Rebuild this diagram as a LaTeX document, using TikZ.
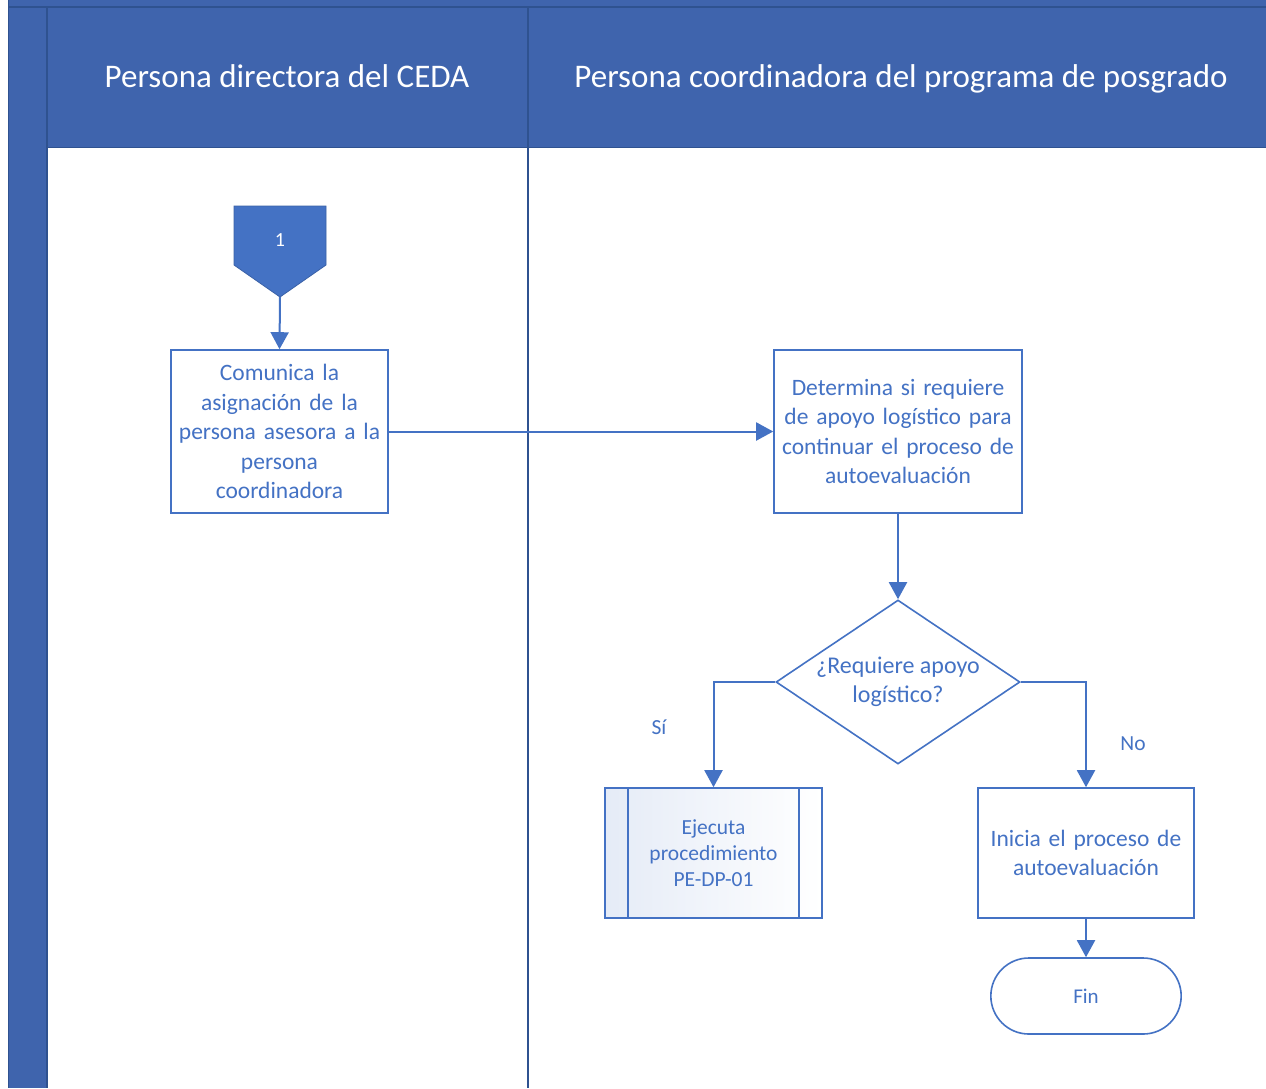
\documentclass[tikz,border=0pt]{standalone}
\usepackage{fontspec}
\setmainfont{Carlito}
\usetikzlibrary{shapes.geometric,shapes.misc,arrows.meta,calc}
\definecolor{hdr}{HTML}{3F64AD}
\definecolor{hdrline}{HTML}{2F5290}
\definecolor{shp}{HTML}{4472C4}
\tikzset{
  box/.style={draw=shp, line width=1.6pt, fill=white, text=shp, align=center, inner sep=2pt,
    font=\fontsize{23.5}{29.5}\selectfont},
  arr/.style={draw=shp, line width=2pt, -{Triangle[width=18pt,length=17pt]}},
  lanehead/.style={text=white, anchor=base, font=\fontsize{33}{38}\selectfont},
  lbl/.style={text=shp, font=\fontsize{21.5}{24}\selectfont},
}
\begin{document}
\begin{tikzpicture}[x=1pt,y=-1pt]
\useasboundingbox (0,0) rectangle (1266,1088);
\fill[white] (0,0) rectangle (1266,1088);
% pool
\fill[hdr] (8,0) rectangle (1266,1088);
\fill[white] (48,148) rectangle (1266,1088);
\draw[hdrline, line width=1.5pt] (8,7) -- (1266,7);
\draw[hdrline, line width=1.5pt] (47,7) -- (47,1088);
\draw[hdrline, line width=1.5pt] (47,147.5) -- (1266,147.5);
\draw[hdrline, line width=1.5pt] (528,7) -- (528,1088);
\draw[hdrline, line width=1pt] (8.5,0) -- (8.5,1088);
% lane headers
\node[lanehead] (h1) at (287,87) {Persona directora del CEDA};
\node[lanehead] (h2) at (901,87) {Persona coordinadora del programa de posgrado};
% off-page connector
\fill[shp] (234,206) -- (326,206) -- (326,265) -- (280,297) -- (234,265) -- cycle;
\draw[shp!85!black, line width=0.8pt] (234,206) -- (326,206) -- (326,265) -- (280,297) -- (234,265) -- cycle;
\node[text=white, font=\fontsize{20}{22}\selectfont] (oc) at (280,240) {1};
\coordinate (octip) at (280,297);
% boxes
\node[box, minimum width=217pt, minimum height=163pt, text width=212pt] (b1) at (279.5,431.5)
  {Comunica la\\asignación de la\\persona asesora a la\\persona\\coordinadora};
\node[box, minimum width=248pt, minimum height=163pt, text width=244pt] (b2) at (898,431.5)
  {Determina si requiere\\de apoyo logístico para\\continuar el proceso de\\autoevaluación};
\node[draw=shp, line width=1.6pt, fill=white, diamond, minimum width=244pt, minimum height=164pt, inner sep=0pt,
  label={[text=shp, align=center, font=\fontsize{24}{29.5}\selectfont]center:¿Requiere apoyo\\logístico?}] (dec) at (898,682) {};
\node[draw=shp, line width=1.6pt, left color=shp!14, right color=white, text=shp, align=center,
  minimum width=217pt, minimum height=130pt, font=\fontsize{21.5}{26}\selectfont] (pp) at (713.5,853)
  {Ejecuta\\procedimiento\\PE-DP-01};
\draw[shp, line width=1.6pt] ($(pp.north west)+(24,0)$) -- ($(pp.south west)+(24,0)$);
\draw[shp, line width=1.6pt] ($(pp.north east)+(-24,0)$) -- ($(pp.south east)+(-24,0)$);
\node[box, minimum width=216pt, minimum height=130pt, text width=212pt] (b3) at (1086,853)
  {Inicia el proceso de\\autoevaluación};
\node[draw=shp, line width=1.6pt, fill=white, rounded rectangle, text=shp, minimum width=197pt, minimum height=76pt,
  font=\fontsize{21}{22}\selectfont] (fin) at (1086,996) {Fin};
% connectors
\draw[arr] (octip) -- (b1.north);
\draw[arr] (b1.east) -- (b2.west);
\draw[arr] (b2.south) -- (dec.north);
\draw[arr] (dec.west) -| (pp.north);
\draw[arr] (dec.east) -| (b3.north);
\draw[arr] (b3.south) -- (fin.north);
\node[lbl] (si) at (659,727) {Sí};
\node[lbl] (no) at (1133,744) {No};
\end{tikzpicture}
\end{document}
